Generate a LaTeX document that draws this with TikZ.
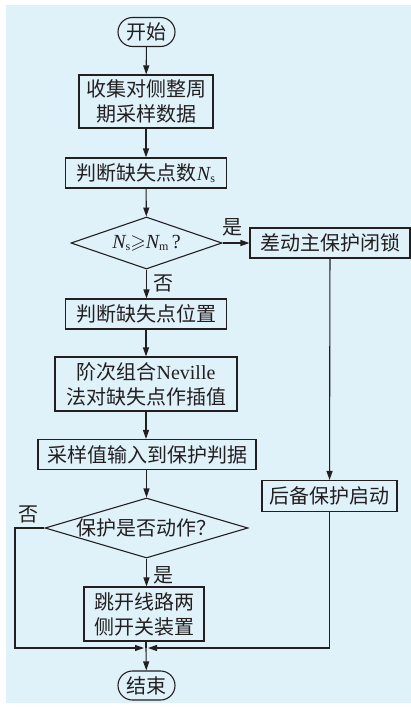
\documentclass[tikz,border=0pt]{standalone}
\usepackage{amssymb}
\usepackage{fontspec}
\setmainfont{Liberation Serif}
\newfontfamily\cjk{Noto Sans CJK SC}
\usetikzlibrary{shapes.geometric,arrows.meta}
\definecolor{panel}{RGB}{223,242,250}
\definecolor{ink}{RGB}{35,31,32}
\begin{document}
\begin{tikzpicture}[x=1pt,y=-1pt,
  every node/.style={font=\cjk\fontsize{20}{25}\selectfont,text=ink},
  box/.style={draw=ink,line width=1.1pt,fill=panel,inner sep=0pt,align=center},
  term/.style={draw=ink,line width=1.1pt,fill=panel,rounded corners=14.5pt,inner sep=0pt,minimum width=57pt,minimum height=29pt},
  dia/.style={draw=ink,diamond,line width=1.1pt,fill=panel,inner sep=0pt},
  arr/.style={draw=ink,-{Triangle[length=9pt,width=6pt]},line width=1.1pt},
  ln/.style={draw=ink,line width=1.1pt},
  lbl/.style={inner sep=0pt}]
\useasboundingbox (0,0) rectangle (411,707);
\fill[panel] (6,5) rectangle (411,703);
% nodes
\node[term] (start) at (146.5,32) {开始};
\node[box,minimum width=134pt,minimum height=53pt] (b1) at (146,101.5) {收集对侧整周\\期采样数据};
\node[box,minimum width=161pt,minimum height=30pt] (b2) at (146,173) {判断缺失点数{\rmfamily\itshape N}{\rmfamily\fontsize{12}{12}\selectfont\raisebox{-0.35ex}{s}}};
\node[dia,minimum width=151pt,minimum height=52pt,aspect=2.9] (d1) at (146.5,243) {{\rmfamily\itshape N}{\rmfamily\fontsize{12}{12}\selectfont\raisebox{-0.35ex}{s}}$\geqslant${\rmfamily\itshape N}{\rmfamily\fontsize{12}{12}\selectfont\raisebox{-0.35ex}{m}}{\rmfamily\,?}};
\node[box,minimum width=160pt,minimum height=30pt] (r1) at (330,243) {差动主保护闭锁};
\node[box,minimum width=161pt,minimum height=30pt] (b3) at (146,314) {判断缺失点位置};
\node[box,minimum width=182pt,minimum height=54pt] (b4) at (146,384) {阶次组合{\rmfamily Neville}\\法对缺失点作插值};
\node[box,minimum width=218pt,minimum height=30pt] (b5) at (147,454.5) {采样值输入到保护判据};
\node[box,minimum width=135pt,minimum height=31pt] (r2) at (329.5,496) {后备保护启动};
\node[dia,minimum width=203pt,minimum height=60pt,aspect=3.4] (d2) at (146.5,528) {保护是否动作？};
\node[box,minimum width=120pt,minimum height=54pt] (b6) at (144,614) {跳开线路两\\侧开关装置};
\node[term] (end) at (146.5,685.5) {结束};
% labels
\node[lbl] (ly1) at (232,227) {是};
\node[lbl] (ln1) at (163,283) {否};
\node[lbl] (ln2) at (28,514) {否};
\node[lbl] (ly2) at (163,575) {是};
% junction coordinates
\coordinate (j) at (146,648);
\coordinate (lc) at (15,648);
% connectors
\draw[arr] (start) -- (b1);
\draw[arr] (b1) -- (b2);
\draw[arr] (b2) -- (d1);
\draw[arr] (d1.east) -- (r1.west);
\draw[arr] (d1.south) -- (d1.south |- b3.north);
\draw[arr] (b3.south) -- (b3.south |- b4.north);
\draw[arr] (b4.south) -- (b4.south |- b5.north);
\draw[arr] (d2.north |- b5.south) -- (d2.north);
\draw[arr] (r1) -- (r2);
\draw[arr] (d2.south) -- (d2.south |- b6.north);
\draw[arr,shorten >=2pt] (d2.west) -| (lc) -- (j);
\draw[arr,shorten >=2pt] (r2.south) |- (j);
\draw[ln] (j |- b6.south) -- (j);
\draw[arr] (j) -- (end);
\end{tikzpicture}
\end{document}
